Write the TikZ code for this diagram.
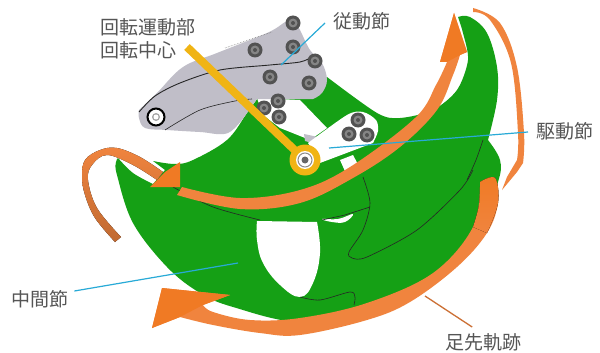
\documentclass[tikz,border=0pt]{standalone}
\usepackage{fontspec}
\newfontfamily\jpfont{Noto Sans CJK JP}
\definecolor{gr}{RGB}{21,160,21}
\definecolor{org}{RGB}{240,132,62}
\definecolor{orgd}{RGB}{240,122,36}
\definecolor{lnk}{RGB}{192,190,200}
\definecolor{yel}{RGB}{240,180,20}
\definecolor{blu}{RGB}{40,170,215}
\definecolor{txt}{RGB}{85,85,85}
\tikzset{
 lbl/.style={font=\jpfont\fontsize{19}{19}\selectfont,text=txt,inner sep=0pt},
 leader/.style={draw=blu,line width=1.2pt},
 thin line/.style={draw=black!85,line width=0.6pt},
 bolt/.pic={\fill[black!68] (0,0) circle (7.5);\fill[black!48] (0,0) circle (4.5);\fill[black!68] (0,0) circle (2);}
}
\begin{document}
\begin{tikzpicture}[x=1pt,y=-1pt]
\useasboundingbox (0,0) rectangle (600,353);
\fill[white] (0,0) rectangle (600,353);
% green body
\fill[gr] plot[smooth,tension=.6] coordinates {(458,17)(470,17)(487,33)(497,67)(497,100)(488,140)}
 -- plot[smooth,tension=.6] coordinates {(488,140)(500,160)(498,182)(480,225)(433,278)(367,308)(300,322)(233,307)(200,293)(167,267)(133,223)(117,175)(116,162)(118,158)}
 -- plot[smooth,tension=.6] coordinates {(118,158)(133,173)(153,184)}
 -- (165,170) -- plot[smooth,tension=.6] coordinates {(153,161)(175,164)(193,160)(227,140)(247,113)(260,95)}
 -- plot[smooth,tension=.5] coordinates {(327,77)(377,113)(400,118)(433,110)(457,90)(468,60)(463,33)(458,17)} -- cycle;
% white openings
\fill[white] plot[smooth,tension=.7] coordinates {(257,221)(257,240)(263,263)(280,285)(300,297)(313,283)(320,253)(317,222)} -- cycle;
\fill[white] plot[smooth cycle,tension=.7] coordinates {(322,219)(338,219)(353,214)(345,222)(332,222)};
% white link behind the driving arm
\fill[white] (257,98) -- (300,100) -- (327,128) -- (310,140) -- (280,128) -- (263,115) -- cycle;
\fill[lnk] (304,134) -- (318,137) -- (312,143) -- (305,141) -- cycle;
\fill[white] (340,160) -- (353,155) -- (362,172) -- (348,178) -- cycle;
% driving arm
\fill[white] plot[smooth,tension=.5] coordinates {(308,143)(347,115)(363,112)(376,120)(378,131)(373,143)}
 -- (320,163) -- cycle;
% follower link
\fill[lnk] plot[smooth,tension=.6] coordinates {(139,110)(157,93)(183,67)(217,53)(267,33)(285,22)(293,17)}
 -- plot[smooth,tension=.6] coordinates {(293,17)(300,30)(310,50)(322,63)(327,80)(322,93)(313,99)}
 -- (257,99) -- (247,113) -- plot[smooth,tension=.6] coordinates {(247,113)(228,133)(200,132)(167,130)(145,128)(139,118)(139,110)} -- cycle;
% thin black lines
\draw[thin line,line width=.9pt] plot[smooth] coordinates {(139,112)(155,96)(180,83)(220,70)(270,65)(300,62)(312,57)};
\draw[thin line] plot[smooth] coordinates {(165,130)(200,110)(235,101)(252,99)};
\draw[thin line,black!50,densely dotted] (225,48) -- (272,32);
\draw[thin line] plot[smooth] coordinates {(473,170)(460,190)(417,230)(367,257)(352,258)(349,252)(363,230)(370,203)(363,177)};
\draw[thin line] (370,207) -- (345,215) -- (322,220);
\draw[thin line] plot[smooth] coordinates {(300,297)(320,300)(350,292)(355,297)(354,305)};
\draw[thin line] plot[smooth] coordinates {(173,187)(213,207)(260,220)};
\draw[thin line] plot[smooth] coordinates {(483,140)(476,160)(467,180)};
% bolts
\foreach \p in {(293,23),(255,50),(293,47),(315,61),(270,77),(309,83),(278,101),(264,108),(279,117),(358,120),(349,134),(367,135)}
 \pic at \p {bolt};
% pivot of follower link
\fill[white] (156,117) circle (9);
\draw[black,line width=2pt] (156,117) circle (8.5);
\fill[black!35] (156,117) circle (4);
\fill[white] (156,117) circle (2.5);
% main orange arc
\fill[org] plot[smooth,tension=.6] coordinates {(182,187)(240,198)(300,190)(350,167)(415,118)(436,85)(447,62)}
 -- (440,62) -- (454,13) -- (467,52) -- (460,55)
 -- plot[smooth,tension=.6] coordinates {(460,55)(453,75)(437,110)(400,147)(353,178)(300,203)(240,209)(177,195)} -- cycle;
\fill[orgd] (447,62) -- (440,62) -- (454,13) -- (467,52) -- (460,55) -- cycle;
% left orange arrow
\fill[bottom color=black!20!org,top color=org] plot[smooth,tension=.6] coordinates {(115,242)(95,218)(85,195)(82,177)(85,160)(100,150)(117,148)(140,157)(163,172)}
 -- plot[smooth,tension=.6] coordinates {(157,180)(133,165)(107,155)(92,165)(88,180)(97,208)(121,237)} -- cycle;
\fill[orgd] (180,162) -- (180,187) -- (150,187) -- (165,172) -- cycle;
% right thin orange arrow
\fill[org] plot[smooth,tension=.6] coordinates {(473,8)(500,23)(517,67)(524,133)(523,163)}
 -- (517,172) -- (502,190) -- (507,177) -- (517,160)
 -- plot[smooth,tension=.6] coordinates {(517,160)(518,133)(511,63)(490,20)(473,12)} -- cycle;
% bottom orange arrow
\fill[org] plot[smooth,tension=.6] coordinates {(480,182)(495,178)(498,203)(487,233)(457,267)(410,302)(367,320)(300,335)(260,333)(213,325)(180,317)}
 -- (152,328) -- (162,288) -- (230,295) -- (203,305)
 -- plot[smooth,tension=.6] coordinates {(203,305)(213,312)(250,320)(300,318)(367,303)(433,273)(473,227)(480,182)} -- cycle;
\fill[orgd] (180,317) -- (152,328) -- (162,288) -- (230,295) -- (203,305) -- cycle;
\fill[top color=orgd,bottom color=org] plot[smooth,tension=.6] coordinates {(480,182)(495,178)(498,203)(487,233)} -- (473,227) -- plot[smooth,tension=.6] coordinates {(473,227)(479,205)(480,182)} -- cycle;
% labels
\node[lbl,anchor=west] (rot1) at (100,27) {回転運動部};
\node[lbl,anchor=west] (rot2) at (100,50) {回転中心};
\node[lbl,anchor=west] (fol) at (333,21) {従動節};
\node[lbl,anchor=west] (drv) at (536,131) {駆動節};
\node[lbl,anchor=west] (mid) at (11,299) {中間節};
\node[lbl,anchor=west] (toe) at (445,342) {足先軌跡};
% yellow rotation centre
\coordinate (cen) at (305,160);
\coordinate (yelend) at (187,47);
\draw[yel,line width=8pt] (yelend) -- (cen);
\fill[yel] (cen) circle (15.5);
\fill[white] (cen) circle (9);
\draw[black!45,line width=1pt] (cen) circle (7);
\fill[black!60] (cen) circle (3.5);
% leaders
\coordinate (a1) at (281,65);
\coordinate (a2) at (329,148);
\coordinate (a3) at (238,263);
\coordinate (a4) at (425,296);
\draw[leader] (fol.west) ++(-8,2) -- (a1);
\draw[leader] (drv.west) ++(-8,1) -- (a2);
\draw[leader] (mid.east) ++(6,-8) -- (a3);
\draw[draw=org!85!black,line width=1.3pt] (toe.north) ++(-11,-6) -- (a4);
\end{tikzpicture}
\end{document}
